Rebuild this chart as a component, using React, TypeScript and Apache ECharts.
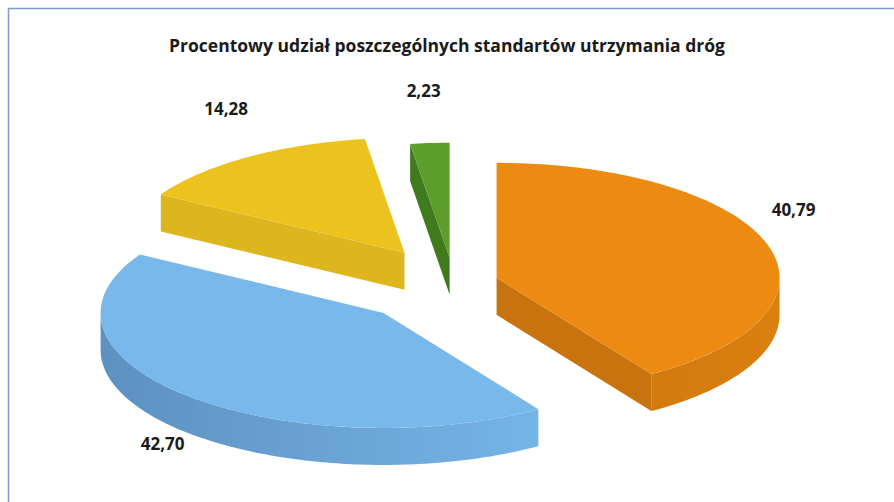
import React, { useEffect, useRef } from 'react';
import * as echarts from 'echarts';

const title = 'Procentowy udział poszczególnych standartów utrzymania dróg';
const categories = ['Standard 1', 'Standard 2', 'Standard 3', 'Standard 4'];
const values = [40.79, 42.7, 14.28, 2.23];

const topColors = ['#EC8A12', '#78B8EA', '#ECC21F', '#5B9E2A'];
const wallLeft = ['#D27A0E', '#5C91C0', '#DDB51C', '#3F7A1D'];
const wallRight = ['#DA800F', '#76B4E7', '#DDB51C', '#4A8A22'];
const faceColors = ['#C8730D', '#6A9FCC', '#DDB51C', '#3F7A1D'];
const explode = [0.157, 0.36, 0.315, 0.22];

const CX = 454, CY = 283, RX = 283, RY = 115, DEPTH = 37;

const total = values.reduce((s, v) => s + v, 0);
const angles: [number, number][] = [];
{
  let acc = 0;
  values.forEach((v) => {
    const s = (acc / total) * 360;
    acc += v;
    angles.push([s, (acc / total) * 360]);
  });
}

function rad(d: number) { return (d * Math.PI) / 180; }
function pt(cx: number, cy: number, deg: number, dy = 0): number[] {
  return [cx + RX * Math.sin(rad(deg)), cy - RY * Math.cos(rad(deg)) + dy];
}
function arc(cx: number, cy: number, a0: number, a1: number, dy = 0): number[][] {
  const pts: number[][] = [];
  const n = Math.max(2, Math.ceil(Math.abs(a1 - a0)));
  for (let k = 0; k <= n; k++) pts.push(pt(cx, cy, a0 + ((a1 - a0) * k) / n, dy));
  return pts;
}
function centerOf(i: number) {
  const [s, e] = angles[i];
  const m = (s + e) / 2;
  return [CX + explode[i] * RX * Math.sin(rad(m)), CY - explode[i] * RY * Math.cos(rad(m))];
}
const order = values.map((_, i) => i).sort((a, b) => centerOf(a)[1] - centerOf(b)[1]);

function renderItem(params: any, api: any) {
  const i = api.value(0) as number;
  const [s, e] = angles[i];
  const m = (s + e) / 2;
  const [cx, cy] = centerOf(i);
  const children: any[] = [];
  // curved outer wall (front half only)
  const lo = Math.max(s, 90), hi = Math.min(e, 270);
  if (lo < hi) {
    const top = arc(cx, cy, lo, hi);
    const bot = arc(cx, cy, hi, lo, DEPTH);
    children.push({
      type: 'polygon',
      shape: { points: top.concat(bot) },
      style: {
        fill: new echarts.graphic.LinearGradient(0, 0, 1, 0, [
          { offset: 0, color: wallLeft[i] },
          { offset: 1, color: wallRight[i] },
        ]),
      },
    });
  }
  // radial faces
  const face = (a: number) => {
    const p = pt(cx, cy, a);
    return [[cx, cy], p, [p[0], p[1] + DEPTH], [cx, cy + DEPTH]];
  };
  if (Math.sin(rad(s)) < -1e-6) {
    children.push({ type: 'polygon', shape: { points: face(s) }, style: { fill: faceColors[i] } });
  }
  if (Math.sin(rad(e)) > 1e-6) {
    children.push({ type: 'polygon', shape: { points: face(e) }, style: { fill: faceColors[i] } });
  }
  // top face
  children.push({
    type: 'polygon',
    shape: { points: [[cx, cy]].concat(arc(cx, cy, s, e)) },
    style: { fill: topColors[i] },
  });
  // label, outside the slice along its mid angle
  const cm = Math.cos(rad(m)), sm = Math.sin(rad(m));
  const base = pt(cx, cy, m, cm < 0 ? DEPTH : 0);
  children.push({
    type: 'text',
    style: {
      text: values[i].toFixed(2).replace('.', ','),
      x: base[0] + 31 * sm - 4,
      y: base[1] - 25 * cm + (cm >= 0 ? -28 : -8),
      align: 'center',
      verticalAlign: 'middle',
      font: 'bold 17px "Open Sans", sans-serif',
      fill: '#1a1a1a',
    },
  });
  return { type: 'group', children };
}

export default function App() {
  const ref = useRef<HTMLDivElement>(null);
  useEffect(() => {
    if (!ref.current) return;
    const chart = echarts.init(ref.current, undefined, { renderer: 'svg' });
    chart.setOption({
      animation: false,
      backgroundColor: '#ffffff',
      title: {
        text: title,
        left: 'center',
        top: 31,
        textStyle: { fontFamily: 'Open Sans', fontWeight: 'bold', fontSize: 17.5, color: '#1a1a1a' },
      },
      graphic: [
        {
          type: 'rect',
          shape: { x: 8.5, y: 8.5, width: 1000, height: 1000 },
          style: { fill: 'none', stroke: '#7A9BD0', lineWidth: 1.5 },
          silent: true,
        },
      ],
      series: [
        {
          type: 'custom',
          coordinateSystem: 'none',
          renderItem,
          data: order.map((i) => ({ name: categories[i], value: [i, values[i]] })),
        },
      ],
    });
    return () => chart.dispose();
  }, []);
  return (
    <div
      ref={ref}
      style={{ position: 'absolute', left: 0, top: 0, width: 894, height: 502 }}
    />
  );
}
